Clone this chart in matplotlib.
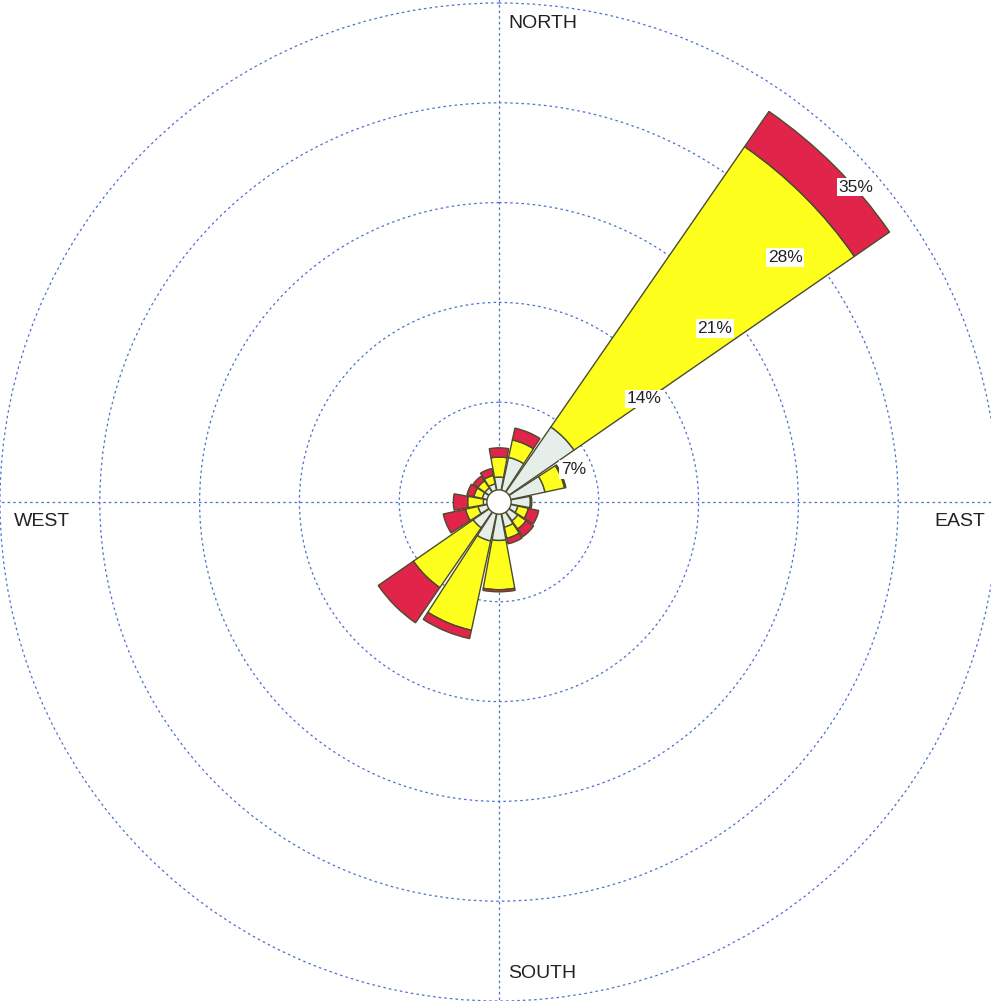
import numpy as np
import matplotlib.pyplot as plt

# 16方位の風配図（％）
directions = ["N", "NNE", "NE", "ENE", "E", "ESE", "SE", "SSE",
              "S", "SSW", "SW", "WSW", "W", "WNW", "NW", "NNW"]
calm = 0.85  # 中心の円
low = [0.90, 2.35, 5.55, 2.45, 1.35, 0.50, 0.75, 0.95,
       1.85, 1.95, 1.35, 0.65, 0.25, 0.35, 0.35, 0.45]
mid = [1.40, 1.25, 23.90, 1.40, 0.05, 0.75, 0.70, 0.80,
       3.45, 6.40, 5.10, 0.90, 1.10, 0.60, 0.60, 0.60]
high = [0.65, 0.85, 3.00, 0.10, 0.05, 0.75, 0.65, 0.40,
        0.15, 0.60, 3.00, 1.60, 1.00, 0.50, 0.40, 0.50]
ring_values = [7, 14, 21, 28, 35]
ring_labels = ["7%", "14%", "21%", "28%", "35%"]
compass_labels = ["NORTH", "EAST", "SOUTH", "WEST"]

W, H = 991, 1001
fig = plt.figure(figsize=(W / 100, H / 100), dpi=100)
plt.rcParams["font.family"] = ["Liberation Sans", "DejaVu Sans"]

rmax = 35.3
cx, cy = 499, 502
R = rmax / 7 * 99.8  # 7%ごとに約100px
ax = fig.add_axes([(cx - R) / W, (H - cy - R) / H, 2 * R / W, 2 * R / H],
                  projection="polar")
ax.set_theta_zero_location("N")
ax.set_theta_direction(-1)
ax.set_ylim(0, rmax)
ax.spines["polar"].set_visible(False)
ax.set_axisbelow(True)

ax.set_yticks(ring_values)
ax.set_yticklabels([])
ax.set_xticks(np.deg2rad([0, 90, 180, 270]))
ax.set_xticklabels([])
ax.grid(True, color="#4a6fd0", linestyle=(0, (2, 2.5)), linewidth=0.9)

theta = np.deg2rad(np.arange(16) * 22.5)
width = np.deg2rad(22.5) * 0.92
edge = "#4b4b2e"

bottom = np.full(16, calm)
for vals, col in [(low, "#e5eee9"), (mid, "#ffff1e"), (high, "#e0244a")]:
    ax.bar(theta, vals, width=width, bottom=bottom, color=col,
           edgecolor=edge, linewidth=1.0, zorder=3)
    bottom = bottom + np.array(vals)

# 中心の白円
ax.bar(0, calm, width=2 * np.pi, bottom=0, color="white", linewidth=0, zorder=2.5)

# リングのラベル
for rv, lab in zip(ring_values, ring_labels):
    ax.annotate(lab, xy=(np.deg2rad(45), rv), xytext=(4, -38),
                textcoords="offset pixels", ha="center", va="center",
                fontsize=12.5, color="#222222", zorder=5,
                bbox=dict(boxstyle="square,pad=0.1", fc="white", ec="none"))

# 方位ラベル
ax.annotate(compass_labels[0], xy=(0, 35), xytext=(9, -20), textcoords="offset pixels",
            ha="left", va="center", fontsize=14, color="#222222")
ax.annotate(compass_labels[2], xy=(np.pi, 35), xytext=(9, 28), textcoords="offset pixels",
            ha="left", va="center", fontsize=14, color="#222222")
ax.annotate(compass_labels[3], xy=(np.deg2rad(270), 35), xytext=(14, -20),
            textcoords="offset pixels", ha="left", va="center", fontsize=14, color="#222222")
ax.annotate(compass_labels[1], xy=(np.deg2rad(90), 35), xytext=(-13, -20),
            textcoords="offset pixels", ha="right", va="center", fontsize=14, color="#222222")

fig.savefig("out.png", dpi=100)
